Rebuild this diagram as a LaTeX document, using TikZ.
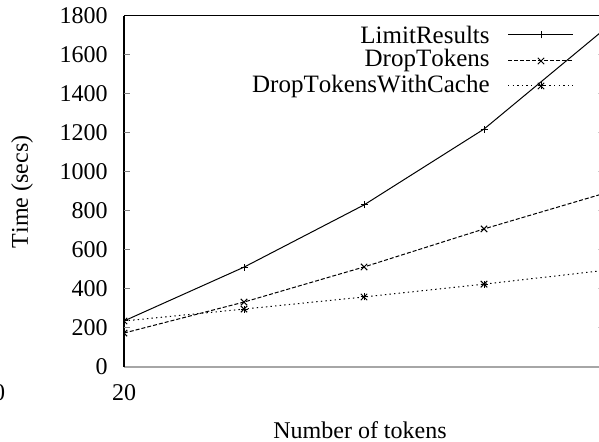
\documentclass[tikz,border=0pt]{standalone}
\usepackage{fontspec}
\setmainfont[Kerning=Off]{Liberation Serif}
\usetikzlibrary{calc}
\tikzset{
    limline/.style={black, line width=0.5pt},
    dropline/.style={black, line width=0.5pt, dash pattern=on 2pt off 1pt},
    cacheline/.style={black, line width=0.5pt, dash pattern=on 0.7pt off 1.6pt},
    ticklabel/.style={anchor=east, inner sep=0pt, xshift=-8pt},
    keylabel/.style={anchor=east, inner sep=0pt, font=\fontsize{12.5}{14}\selectfont},
}
\newcommand{\mkPlus}[1]{\draw[black, solid, line width=0.5pt] (#1) +(-1.75pt,0) -- +(1.75pt,0) +(0,-1.75pt) -- +(0,1.75pt);}
\newcommand{\mkCross}[1]{\draw[black, solid, line width=0.5pt] (#1) +(-1.6pt,-1.6pt) -- +(1.6pt,1.6pt) +(-1.6pt,1.6pt) -- +(1.6pt,-1.6pt);}
\newcommand{\mkStar}[1]{\mkPlus{#1}\mkCross{#1}}

\begin{document}
\begin{tikzpicture}[x=0.5pt, y=0.5pt, font=\fontsize{12}{14}\selectfont]
    \useasboundingbox (0,0) rectangle (599,442);
    %%Frame
    \draw[gray!70, line width=1pt] (124,75) -- (599,75);
    \draw[black, line width=0.5pt] (124,426) -- (599,426);
    \draw[black, line width=0.7pt] (124,75) -- (124,426.25);
    %%Titles
    \node (xtitle) at (360,12) {Number of tokens};
    \node[rotate=90] (ytitle) at (22,250) {Time (secs)};
    %%Data
    \begin{scope}[shift={(124,75)}, x=60pt, y=0.0975pt]
        \foreach \v in {200,400,...,1600}
        {
        \draw[gray, line width=0.5pt] (0,\v) -- +(3pt,0);
        \draw[gray!40, line width=0.5pt] (3.95,\v) -- (4.15,\v);
        }
        \foreach \v in {0,200,...,1800}
        {
        \node[ticklabel] (ytick\v) at (0,\v) {\v};
        }
        \node[yshift=-13pt] (xtick20) at (0,0) {20};
        \node[yshift=-13pt] (xtick10) at (-1.04,0) {0};
        \foreach \i/\a/\b/\c in {0/236/174/236, 1/512/333/297, 2/831/513/359, 3/1220/708/425, 4/1730/890/495}
        {
        \coordinate (lim\i) at (\i,\a);
        \coordinate (drop\i) at (\i,\b);
        \coordinate (cache\i) at (\i,\c);
        }
        \begin{scope}
            \clip (0,0) rectangle (3.958,1800);
            \draw[limline] (lim0) -- (lim1) -- (lim2) -- (lim3) -- (lim4);
            \draw[dropline] (drop0) -- (drop1) -- (drop2) -- (drop3) -- (drop4);
            \draw[cacheline] (cache0) -- (cache1) -- (cache2) -- (cache3) -- (cache4);
            \foreach \i in {0,...,4}
            {
            \mkPlus{lim\i}
            \mkCross{drop\i}
            \mkStar{cache\i}
            }
        \end{scope}
    \end{scope}
    %%Legend
    \foreach \name/\txt/\sty/\row in {lim/LimitResults/limline/407, drop/DropTokens/dropline/381, cache/DropTokensWithCache/cacheline/356}
    {
    \node[keylabel] (\name key) at (490,\row) {\txt};
    \coordinate (\name a) at (508,\row);
    \coordinate (\name b) at (573,\row);
    \coordinate (\name m) at (541,\row);
    \draw[\sty] (\name a) -- (\name b);
    }
    \mkPlus{limm}
    \mkCross{dropm}
    \mkStar{cachem}
\end{tikzpicture}
\end{document}
